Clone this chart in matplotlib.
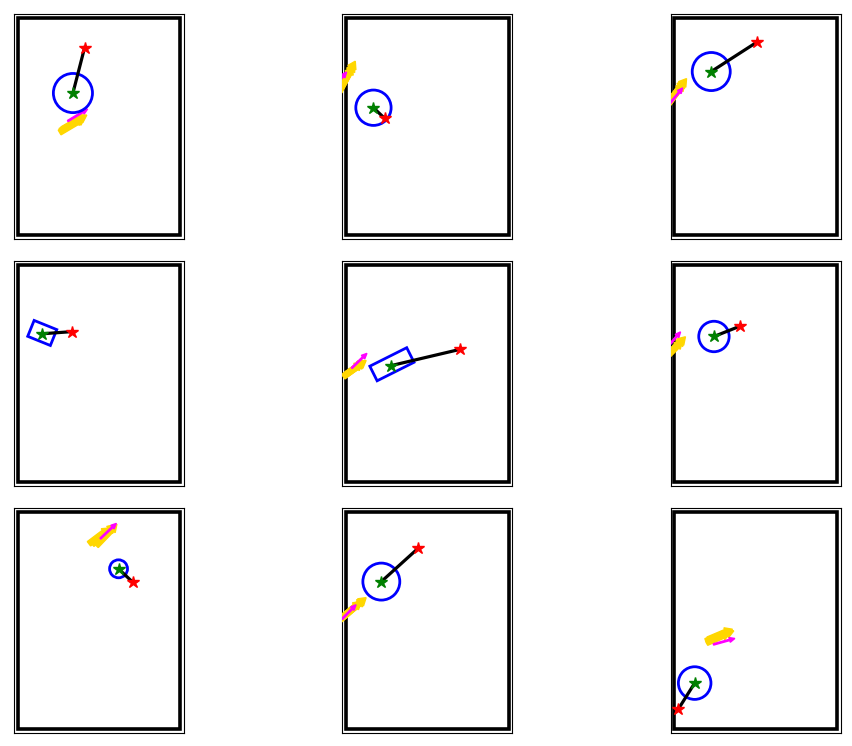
import matplotlib
matplotlib.use("Agg")
import matplotlib.pyplot as plt
from matplotlib.patches import Circle, Rectangle
import matplotlib.transforms as mtransforms

# World size
world_w = 6.0
world_h = 8.0

# Robot (green) and goal (red) positions per panel (row-major)
robot_x = [2.04, 1.01, 1.37, 0.91, 1.66, 1.47, 3.72, 1.30, 0.76]
robot_y = [5.23, 4.69, 6.02, 5.46, 4.29, 5.36, 5.90, 5.43, 1.70]
goal_x = [2.47, 1.42, 3.05, 2.02, 4.21, 2.43, 4.24, 2.65, 0.15]
goal_y = [6.90, 4.30, 7.10, 5.54, 4.89, 5.74, 5.41, 6.65, 0.73]

# Robot footprint: circle radius or rectangle (length, width, angle deg)
shape_kind = ["circle", "circle", "circle", "rect", "rect", "circle", "circle", "circle", "circle"]
circle_r = [0.72, 0.65, 0.70, 0.0, 0.0, 0.56, 0.33, 0.68, 0.60]
rect_len = [0, 0, 0, 0.90, 1.52, 0, 0, 0, 0]
rect_wid = [0, 0, 0, 0.63, 0.60, 0, 0, 0, 0]
rect_ang = [0, 0, 0, -22.0, 26.6, 0, 0, 0, 0]
rect_cx = [0, 0, 0, 0.91, 1.69, 0, 0, 0, 0]
rect_cy = [0, 0, 0, 5.49, 4.34, 0, 0, 0, 0]

# Yellow arrows (tail x, tail y, head x, head y), several per panel
yellow = [
    [(1.55, 3.78, 2.48, 4.33), (1.65, 3.90, 2.55, 4.42), (1.58, 3.84, 2.42, 4.32)],
    [(-0.30, 5.20, 0.34, 6.40), (-0.25, 5.30, 0.30, 6.30), (-0.35, 5.10, 0.24, 6.20)],
    [(-0.30, 4.75, 0.46, 5.76), (-0.20, 4.85, 0.40, 5.70), (-0.35, 4.65, 0.36, 5.60)],
    [],
    [(-0.05, 3.93, 0.74, 4.48), (0.05, 4.00, 0.70, 4.45), (-0.10, 3.88, 0.60, 4.40)],
    [(-0.30, 4.60, 0.42, 5.35), (-0.20, 4.70, 0.38, 5.30), (-0.35, 4.55, 0.30, 5.20)],
    [(2.75, 6.80, 3.60, 7.50), (2.63, 6.82, 3.40, 7.40), (2.90, 6.75, 3.66, 7.54)],
    [(-0.20, 4.05, 0.74, 4.84), (-0.10, 4.15, 0.70, 4.80), (-0.25, 4.00, 0.55, 4.70)],
    [(1.17, 3.24, 2.20, 3.62), (1.25, 3.30, 2.15, 3.68), (1.20, 3.18, 2.05, 3.55)],
]
# Magenta arrows (tail x, tail y, head x, head y)
magenta = [
    (1.85, 4.20, 2.58, 4.64),
    (-0.40, 5.50, 0.02, 6.00),
    (-0.15, 4.85, 0.32, 5.42),
    None,
    (0.21, 4.20, 0.77, 4.74),
    (-0.15, 5.08, 0.24, 5.53),
    (3.05, 7.01, 3.64, 7.57),
    (-0.15, 4.05, 0.37, 4.58),
    (1.45, 3.12, 2.24, 3.34),
]

fig = plt.figure(figsize=(8.53, 7.46), dpi=100)
W, H = 853.0, 746.0
lefts = [14, 342.5, 670.5]
tops = [14, 261, 508]
aw, ah = 170, 225
mx = 0.13
my = 0.135

for i in range(9):
    r, c = divmod(i, 3)
    ax = fig.add_axes([lefts[c] / W, 1 - (tops[r] + ah) / H, aw / W, ah / H])
    ax.set_xlim(-mx, world_w + mx)
    ax.set_ylim(-my, world_h + my)
    ax.set_xticks([])
    ax.set_yticks([])
    for s in ax.spines.values():
        s.set_linewidth(0.8)
        s.set_color("black")
    # world boundary
    ax.add_patch(Rectangle((0, 0), world_w, world_h, fill=False, ec="black", lw=2.6, zorder=2))

    for (x0, y0, x1, y1) in yellow[i]:
        ax.arrow(x0, y0, x1 - x0, y1 - y0, width=0.2, head_width=0.34,
                 head_length=0.27, length_includes_head=True, fc="gold", ec="gold", zorder=3)
    m = magenta[i]
    if m is not None:
        x0, y0, x1, y1 = m
        ax.arrow(x0, y0, x1 - x0, y1 - y0, width=0.05, head_width=0.18,
                 head_length=0.2, length_includes_head=True, fc="magenta", ec="magenta", zorder=4)

    if shape_kind[i] == "circle":
        ax.add_patch(Circle((robot_x[i], robot_y[i]), circle_r[i], fill=False, ec="blue", lw=2.0, zorder=5))
    else:
        L, Wd, ang = rect_len[i], rect_wid[i], rect_ang[i]
        rect = Rectangle((rect_cx[i] - L / 2, rect_cy[i] - Wd / 2), L, Wd, fill=False, ec="blue", lw=2.0, zorder=5)
        tr = mtransforms.Affine2D().rotate_deg_around(rect_cx[i], rect_cy[i], ang) + ax.transData
        rect.set_transform(tr)
        ax.add_patch(rect)

    ax.plot([robot_x[i], goal_x[i]], [robot_y[i], goal_y[i]], color="black", lw=2.3, zorder=6)
    ax.plot(goal_x[i], goal_y[i], marker="*", color="red", ms=9, zorder=7)
    ax.plot(robot_x[i], robot_y[i], marker="*", color="green", ms=9, zorder=7)

fig.savefig("out.png", dpi=100)
